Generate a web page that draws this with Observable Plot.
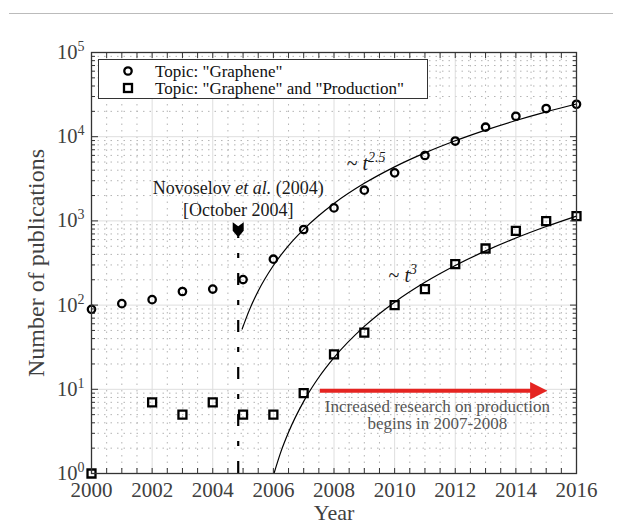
<!DOCTYPE html>
<html><head><meta charset="utf-8">
<script src="https://cdn.jsdelivr.net/npm/d3@7"></script>
<script src="https://cdn.jsdelivr.net/npm/@observablehq/plot@0.6"></script>
<style>
body{margin:0;background:#fff;}
#wrap{position:relative;width:622px;height:524px;font-family:"Liberation Serif","Times New Roman",Times,Tinos,serif;}
#wrap svg text{font-family:"Liberation Serif","Times New Roman",Times,Tinos,serif;}
#topline{position:absolute;left:9px;top:13px;width:604px;height:0;border-top:1px solid #bbb;}
#legend{position:absolute;left:98px;top:59px;width:330px;height:40px;box-sizing:border-box;border:1.3px solid #333;background:#fff;font-size:17px;color:#111;}
#legend .row{position:absolute;left:0;height:17px;line-height:17px;white-space:nowrap;}
#legend svg{position:absolute;left:23px;top:2.5px;}
#legend span{position:absolute;left:56px;top:0;display:inline-block;height:17px;line-height:17px;overflow:visible;}
</style></head>
<body><div id="wrap"><div id="topline"></div><div id="chart"></div>
<div id="legend">
 <div class="row" style="top:2.5px"><svg width="12" height="12"><circle cx="6" cy="6" r="3.7" fill="none" stroke="#000" stroke-width="2.3"/></svg><span>Topic: "Graphene"</span></div>
 <div class="row" style="top:19.5px"><svg width="12" height="12"><rect x="2" y="2" width="8" height="8" fill="none" stroke="#000" stroke-width="2.3"/></svg><span>Topic: "Graphene" and "Production"</span></div>
</div></div>
<script>
// ---- data ----
const years = [2000,2001,2002,2003,2004,2005,2006,2007,2008,2009,2010,2011,2012,2013,2014,2015,2016];
const graphene = [89,104,116,145,155,201,351,790,1426,2316,3720,5980,8880,12970,17500,21600,24300];
const prodYears = [2000,2002,2003,2004,2005,2006,2007,2008,2009,2010,2011,2012,2013,2014,2015,2016];
const production = [1,7,5,7,5,5,9,26,47,100,155,306,470,760,992,1137];
// fitted trend curves
const fitGYears = [2004.97,2005.2,2005.5,2006,2006.5,2007,2008,2009,2010,2011,2012,2013,2014,2015,2016];
const fitGValues = [52,86,147,295,509,794,1611,2793,4385,6423,8945,11983,15570,19730,24500];
const fitPYears = [2006.02,2006.25,2006.5,2007,2007.5,2008,2009,2010,2011,2012,2013,2014,2015,2016];
const fitPValues = [1,1.82,3.09,7.19,13.9,23.8,55.9,108.4,186.6,295.5,440,625.7,857,1140];
// annotations
const novoYear = 2004.84, novoTop = 650, novoArrowValue = 787;
const novoLines = ["Novoselov et al. (2004)","[October 2004]"];
const novoValues = [2445,1340];
const powerLabels = ["~ t^2.5","~ t^3"];
const powerYears = [2008.42,2009.8];
const powerValues = [4843,226];
const arrowStart = 2007.53, arrowShaftEnd = 2014.71, arrowTip = 2015.04, arrowValue = 9.6;
const noteText = "Increased research on production\nbegins in 2007-2008";
const noteYear = 2011.41, noteValue = 5.0;
const xTickLabels = [2000,2002,2004,2006,2008,2010,2012,2014,2016];
const yTickLabels = [1,10,100,1000,10000,100000];

const G = years.map((y,i)=>({year:y,value:graphene[i]}));
const P = prodYears.map((y,i)=>({year:y,value:production[i]}));
const FG = fitGYears.map((y,i)=>({year:y,value:fitGValues[i]}));
const FP = fitPYears.map((y,i)=>({year:y,value:fitPValues[i]}));
const minorX = d3.range(2000,2016.01,0.5).filter(v=>!xTickLabels.includes(v));
const minorY = [];
for (let k=0;k<5;k++) for (let m=2;m<10;m++) minorY.push(m*Math.pow(10,k));

const bookmark = {draw(ctx,size){const k=Math.sqrt(size/(Math.PI*25));
  ctx.moveTo(-5.5*k,-7.5*k);ctx.lineTo(0,-3.5*k);ctx.lineTo(5.5*k,-7.5*k);ctx.lineTo(5.5*k,1*k);ctx.lineTo(0,7.5*k);ctx.lineTo(-5.5*k,1*k);ctx.closePath();}};
const redHead = {draw(ctx,size){const k=Math.sqrt(size/(Math.PI*25));
  ctx.moveTo(0,0);ctx.lineTo(-17.3*k,-8.8*k);ctx.lineTo(-17.3*k,8.8*k);ctx.closePath();}};

const serif = "'Liberation Serif','Times New Roman',Times,Tinos,serif";
const tickCol = "#333", labCol = "#404040", red = "#e52421";
const chart = Plot.plot({
  width:622, height:524, marginLeft:91, marginRight:46, marginTop:52, marginBottom:51,
  style:{fontFamily:serif, background:"white", overflow:"visible"},
  x:{domain:[2000,2016], label:null},
  y:{type:"log", domain:[1,1e5], label:null},
  marks:[
    Plot.gridX(minorX,{stroke:"#b4b4b4",strokeOpacity:1,strokeDasharray:"1.5,5"}),
    Plot.gridY(minorY,{stroke:"#b4b4b4",strokeOpacity:1,strokeDasharray:"1.5,5"}),
    Plot.gridX(xTickLabels,{stroke:"#dedede",strokeOpacity:1}),
    Plot.gridY(yTickLabels,{stroke:"#dedede",strokeOpacity:1}),
    Plot.line(FG,{x:"year",y:"value",stroke:"black",strokeWidth:1.2,curve:"monotone-x"}),
    Plot.line(FP,{x:"year",y:"value",stroke:"black",strokeWidth:1.2,curve:"monotone-x"}),
    Plot.ruleX([novoYear],{x:d=>d,y1:1,y2:novoTop,stroke:"black",strokeWidth:2.2,strokeDasharray:"12,15,5,15"}),
    Plot.dot([novoYear],{x:d=>d,y:novoArrowValue,symbol:bookmark,r:5,fill:"black",stroke:"none"}),
    Plot.dot(G,{x:"year",y:"value",symbol:"circle",r:3.7,stroke:"black",strokeWidth:2.3,fill:"none"}),
    Plot.dot(P,{x:"year",y:"value",symbol:"square",r:4.5,stroke:"black",strokeWidth:2.3,fill:"none"}),
    Plot.link([0],{x1:arrowStart,x2:arrowShaftEnd,y1:arrowValue,y2:arrowValue,stroke:red,strokeWidth:4}),
    Plot.dot([arrowTip],{x:d=>d,y:arrowValue,symbol:redHead,r:5,fill:red,stroke:"none"}),
    Plot.text(novoLines,{x:novoYear,y:(d,i)=>novoValues[i],text:d=>d,fontSize:18,fill:"#1a1a1a"}),
    Plot.text(powerLabels,{x:(d,i)=>powerYears[i],y:(d,i)=>powerValues[i],text:d=>d,textAnchor:"start",fontSize:20,fill:"#1a1a1a"}),
    Plot.text([noteText],{x:noteYear,y:noteValue,text:d=>d,fontSize:17,lineHeight:1.03,fill:"#555"}),
    // inward ticks
    Plot.axisX(xTickLabels,{anchor:"bottom",tickSize:-5,tickFormat:()=>"",stroke:tickCol,label:null}),
    Plot.axisX(minorX,{anchor:"bottom",tickSize:-5,tickFormat:()=>"",stroke:tickCol,label:null}),
    Plot.axisX(xTickLabels,{anchor:"top",tickSize:-5,tickFormat:()=>"",stroke:tickCol,label:null}),
    Plot.axisX(minorX,{anchor:"top",tickSize:-5,tickFormat:()=>"",stroke:tickCol,label:null}),
    Plot.axisY(yTickLabels,{anchor:"left",tickSize:-7,tickFormat:()=>"",stroke:tickCol,label:null}),
    Plot.axisY(minorY,{anchor:"left",tickSize:-4,tickFormat:()=>"",stroke:tickCol,label:null}),
    Plot.axisY(yTickLabels,{anchor:"right",tickSize:-7,tickFormat:()=>"",stroke:tickCol,label:null}),
    Plot.axisY(minorY,{anchor:"right",tickSize:-4,tickFormat:()=>"",stroke:tickCol,label:null}),
    // tick labels
    Plot.axisX(xTickLabels,{anchor:"bottom",tickSize:0,tickPadding:9,tickFormat:d=>String(d),fontSize:21,fill:labCol,label:null}),
    Plot.axisY(yTickLabels,{anchor:"left",tickSize:0,tickPadding:7,tickFormat:d=>"10^"+Math.round(Math.log10(d)),fontSize:20.5,fill:labCol,label:null}),
    Plot.text(["Year"],{frameAnchor:"bottom",dy:39.5,lineAnchor:"middle",textAnchor:"middle",text:d=>d,fontSize:22,fill:labCol}),
    Plot.text(["Number of publications"],{frameAnchor:"left",dx:-55,rotate:-90,lineAnchor:"middle",textAnchor:"middle",text:d=>d,fontSize:24,fill:labCol}),
    Plot.frame({stroke:"#333",strokeWidth:1.3})
  ]
});
document.getElementById("chart").appendChild(chart);

// rich text: superscripts and italics
d3.select(chart).selectAll("text").each(function(){
  const el = d3.select(this); const t = this.textContent; let m;
  if ((m = t.match(/^10\^(\d)$/))) {
    el.text("10"); el.append("tspan").attr("dy","-8").style("font-size","14px").text(m[1]);
  } else if ((m = t.match(/^~ t\^(.+)$/))) {
    el.text("~ "); el.append("tspan").style("font-style","italic").text("t");
    el.append("tspan").attr("dy","-8").style("font-size","14px").style("font-style","italic").text(m[1]);
  } else if (t === "Novoselov et al. (2004)") {
    el.text("Novoselov "); el.append("tspan").style("font-style","italic").text("et al.");
    el.append("tspan").text(" (2004)");
  }
});
</script></body></html>
